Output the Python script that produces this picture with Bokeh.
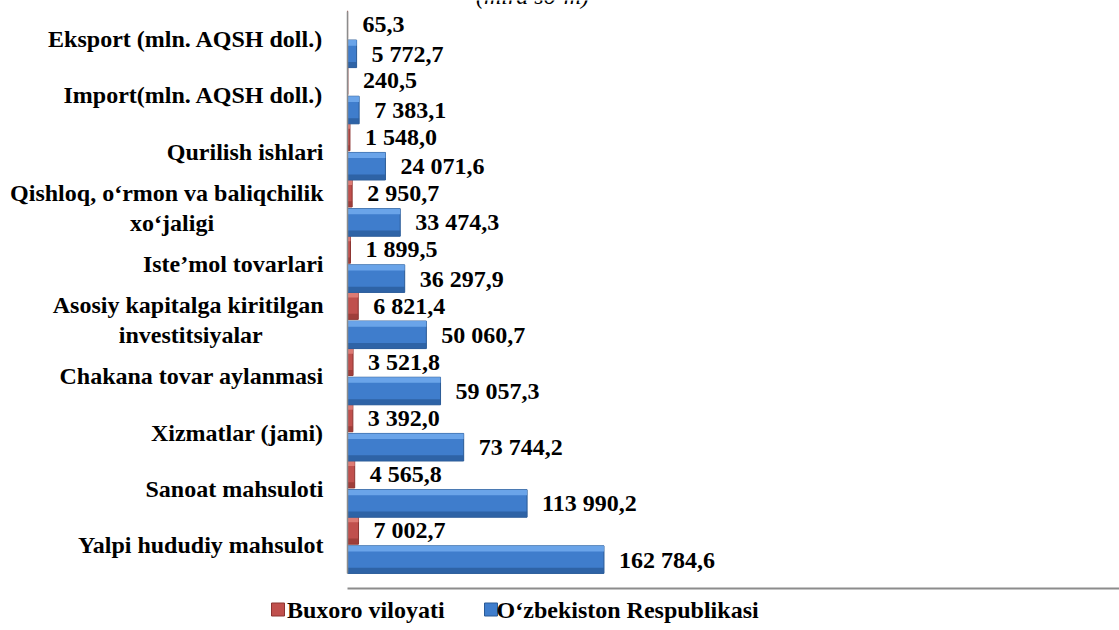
from bokeh.plotting import figure
from bokeh.layouts import column, row
from bokeh.models import (Range1d, FixedTicker, LabelSet, ColumnDataSource, Legend,
                          LegendItem, Label)
from bokeh.embed import file_html
from bokeh.resources import INLINE

# ---------------- data ----------------
categories = [
    "Eksport (mln. AQSH doll.)",
    "Import(mln. AQSH doll.)",
    "Qurilish ishlari",
    "Qishloq, o‘rmon va baliqchilik\nxo‘jaligi",
    "Iste’mol tovarlari",
    "Asosiy kapitalga kiritilgan\ninvestitsiyalar",
    "Chakana tovar aylanmasi",
    "Xizmatlar (jami)",
    "Sanoat mahsuloti",
    "Yalpi hududiy mahsulot",
]
buxoro = [65.3, 240.5, 1548.0, 2950.7, 1899.5, 6821.4, 3521.8, 3392.0, 4565.8, 7002.7]
uzbekiston = [5772.7, 7383.1, 24071.6, 33474.3, 36297.9, 50060.7, 59057.3, 73744.2,
              113990.2, 162784.6]
series_names = ["Buxoro viloyati", "O‘zbekiston Respublikasi"]
title_text = "(mlrd so‘m)"

# ---------------- styles ----------------
FONT = "Liberation Serif"
FONT_TXT = "Liberation Serif, Times New Roman, serif"
FS = "24px"
NBSP = "\u00a0"
RED = dict(fill_color="#C0504D", line_color="#8C3431")
BLUE = dict(fill_color="#3F7DCC", line_color="#2A5A95")
LABEL_W = 345          # width of the category-label column
MAIN_H = 590
LEG_H = 630 - MAIN_H


def fmt(v):
    return f"{v:,.1f}".replace(",", " ").replace(".", ",")


def centred(label):
    # centre the wrapped lines of a label (lines are laid out from the left)
    lines = label.split("\n")
    if len(lines) == 1:
        return label
    w = [len(l) for l in lines]
    m = max(w)
    return "\n".join(NBSP * int(round((m - wl) * 0.94)) + l for l, wl in zip(lines, w))


n = len(categories)
pos = [float(n - 1 - i) for i in range(n)]
BAR_H = 0.49
OFF = 0.26
STRIP = 0.1

red_src = ColumnDataSource(dict(
    y=[p_ + OFF for p_ in pos], v=buxoro, lab=[fmt(v) for v in buxoro],
    top=[p_ + OFF + BAR_H / 2 - STRIP / 2 for p_ in pos],
    bot=[p_ + OFF - BAR_H / 2 + STRIP / 2 for p_ in pos]))
blue_src = ColumnDataSource(dict(
    y=[p_ - OFF for p_ in pos], v=uzbekiston, lab=[fmt(v) for v in uzbekiston],
    top=[p_ - OFF + BAR_H / 2 - STRIP / 2 for p_ in pos],
    bot=[p_ - OFF - BAR_H / 2 + STRIP / 2 for p_ in pos]))

y_range = Range1d(-0.774, 9.689)

# ---------------- main chart ----------------
p = figure(width=1119 - LABEL_W, height=MAIN_H,
           x_range=Range1d(0, 490000), y_range=y_range,
           output_backend="svg", toolbar_location=None,
           min_border_left=2, min_border_right=0, min_border_top=0,
           min_border_bottom=2)
p.grid.visible = False
p.outline_line_color = None

p.hbar(y="y", left=0, right="v", height=BAR_H, source=red_src, line_width=1, **RED)
p.hbar(y="top", left=0, right="v", height=STRIP, source=red_src,
       fill_color="#E07F79", fill_alpha=0.9, line_color=None)
p.hbar(y="bot", left=0, right="v", height=STRIP, source=red_src,
       fill_color="#963936", fill_alpha=0.8, line_color=None)

p.hbar(y="y", left=0, right="v", height=BAR_H, source=blue_src, line_width=1, **BLUE)
p.hbar(y="top", left=0, right="v", height=STRIP, source=blue_src,
       fill_color="#6FA9EC", fill_alpha=0.9, line_color=None)
p.hbar(y="bot", left=0, right="v", height=STRIP, source=blue_src,
       fill_color="#2C5E9F", fill_alpha=0.85, line_color=None)

for src in (red_src, blue_src):
    p.add_layout(LabelSet(x="v", y="y", text="lab", source=src, x_offset=15,
                          text_baseline="middle", text_align="left",
                          text_font=FONT, text_font_style="bold",
                          text_font_size=FS, text_color="black"))

yax = p.yaxis[0]
yax.ticker = FixedTicker(ticks=[])
yax.bounds = (-0.5, n - 0.5)
yax.axis_line_color = "#8c8c8c"
yax.axis_line_width = 1.5
yax.major_tick_out = 0
yax.minor_tick_out = 0
yax.major_label_standoff = 0

xax = p.xaxis[0]
xax.ticker = FixedTicker(ticks=[])
xax.axis_line_color = "#8c8c8c"
xax.axis_line_width = 2
xax.major_tick_out = 0
xax.minor_tick_out = 0
xax.major_label_standoff = 0

# title (cut at the top edge, as in the source picture)
p.add_layout(Label(x=117400, y=9.546, text=title_text, text_align="center",
                   text_baseline="bottom", text_font=FONT,
                   text_font_style="italic", text_font_size=FS,
                   text_color="black"))

# ---------------- category labels column ----------------
lab = figure(width=LABEL_W, height=MAIN_H, x_range=Range1d(0, LABEL_W),
             y_range=y_range, output_backend="svg", toolbar_location=None,
             min_border_left=0, min_border_right=0, min_border_top=0,
             min_border_bottom=2)
lab.axis.visible = False
lab.grid.visible = False
lab.outline_line_color = None
lab_src = ColumnDataSource(dict(y=pos, t=[centred(c) for c in categories],
                                x=[323] * n))
lab.add_layout(LabelSet(x="x", y="y", text="t", source=lab_src, text_align="right",
                        text_baseline="middle", text_font=FONT_TXT,
                        text_font_style="bold", text_font_size=FS,
                        text_color="black", text_line_height=1.15))

# ---------------- legend strip ----------------
lg = figure(width=1119, height=LEG_H, x_range=Range1d(0, 1119),
            y_range=Range1d(0, LEG_H),
            output_backend="svg", toolbar_location=None,
            min_border=0, min_border_left=0, min_border_right=0,
            min_border_top=0, min_border_bottom=0)
lg.axis.visible = False
lg.grid.visible = False
lg.outline_line_color = None
empty = dict(y=[], right=[])
r_red = lg.hbar(y="y", left=0, right="right", height=1,
                source=ColumnDataSource(empty), **RED)
r_blue = lg.hbar(y="y", left=0, right="right", height=1,
                 source=ColumnDataSource(empty), **BLUE)
LEG_X, LEG_Y, KEY = 271, 6, 13
legend = Legend(items=[LegendItem(label=series_names[0], renderers=[r_red]),
                       LegendItem(label=series_names[1], renderers=[r_blue])],
                orientation="horizontal", location=(LEG_X, LEG_Y),
                glyph_width=KEY, glyph_height=KEY, label_standoff=3, spacing=36,
                padding=0, margin=0, border_line_color=None,
                background_fill_alpha=0,
                label_text_font=FONT_TXT, label_text_font_style="bold",
                label_text_font_size=FS, label_text_color="black")
lg.add_layout(legend, "center")
# legend keys (square swatches beside the legend labels)
key_src = ColumnDataSource(dict(x=[LEG_X + KEY / 2, LEG_X + 213 + KEY / 2],
                                y=[LEG_H / 2 + 1, LEG_H / 2 + 1],
                                fc=[RED["fill_color"], BLUE["fill_color"]],
                                lc=[RED["line_color"], BLUE["line_color"]]))
lg.scatter(x="x", y="y", source=key_src, marker="square", size=KEY,
           fill_color="fc", line_color="lc", line_width=1)

layout = column(row(lab, p, spacing=0), lg, spacing=0)
open("out.html", "w").write(file_html(layout, INLINE))
